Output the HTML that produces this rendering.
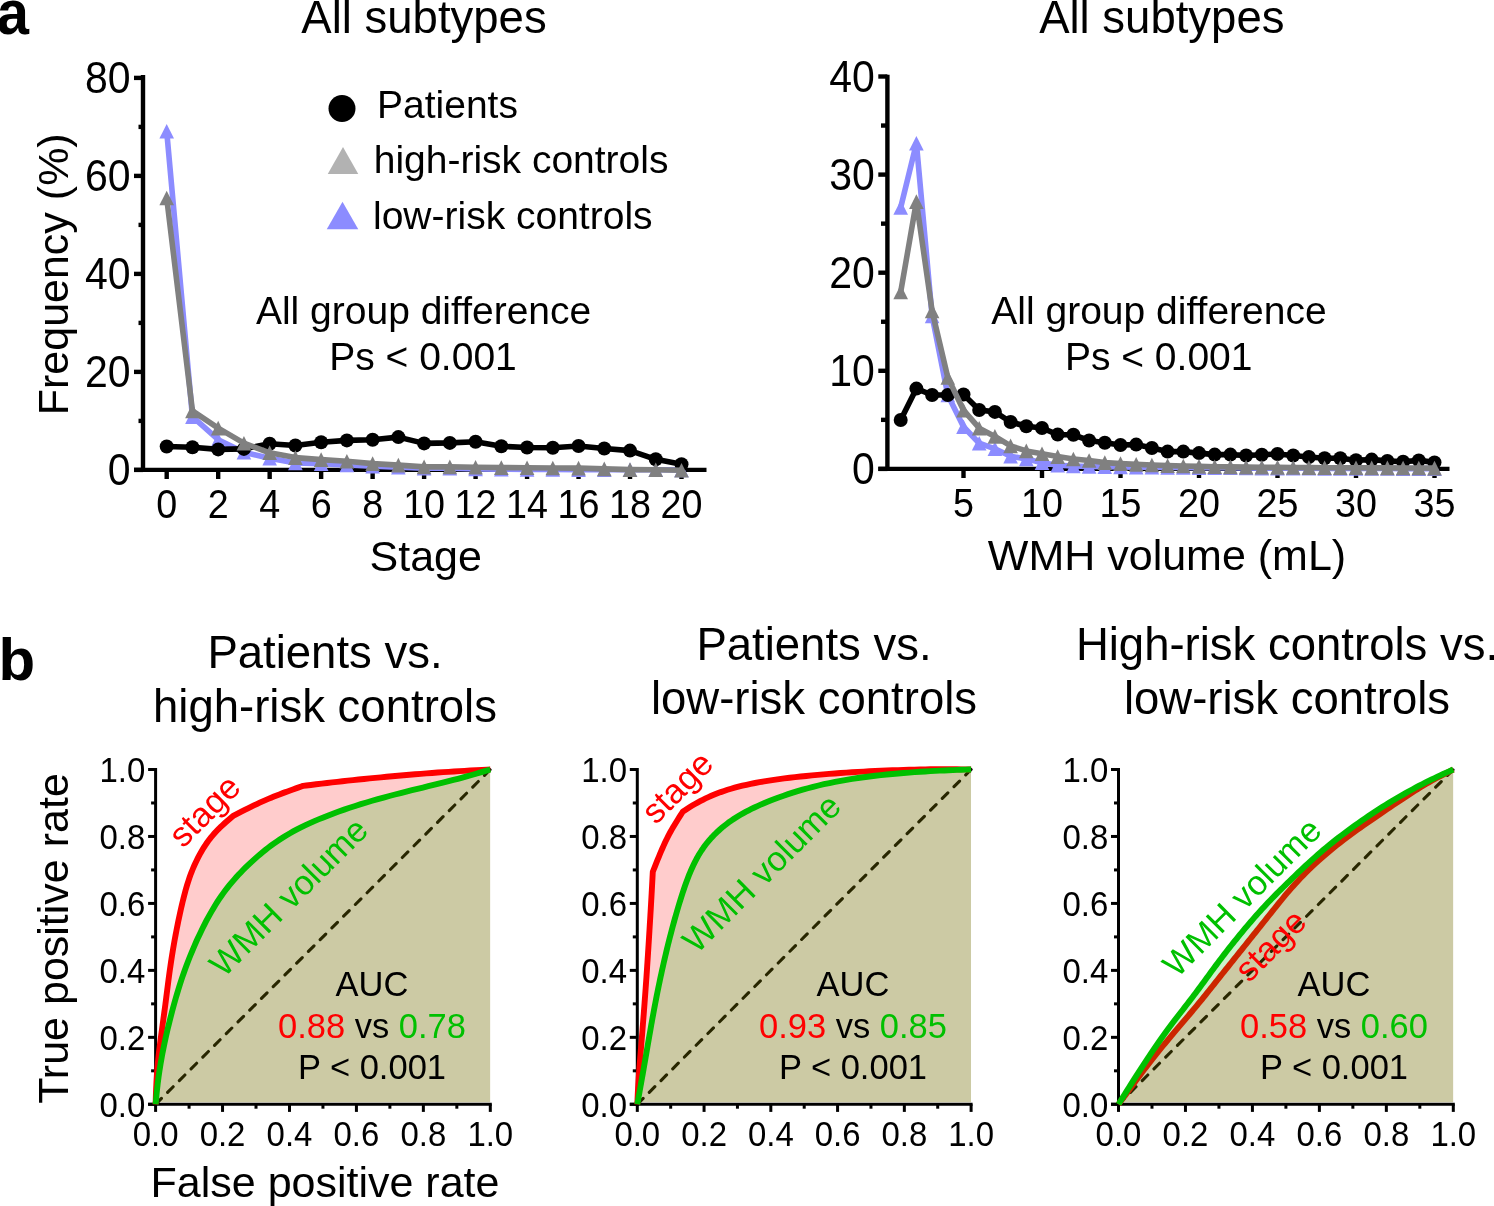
<!DOCTYPE html>
<html><head><meta charset="utf-8"><style>
html,body{margin:0;padding:0;background:#fff;width:1494px;height:1206px;overflow:hidden}
svg{position:absolute;left:0;top:0;display:block;will-change:transform}
text{font-family:"Liberation Sans", sans-serif}
</style></head><body>
<svg width="1494" height="1206" viewBox="0 0 1494 1206" font-family='"Liberation Sans", sans-serif'>
<g>
<text x="0" y="0" font-size="61" font-weight="bold" transform="translate(-3.2,34.0) scale(0.95,1.02)">a</text>
<text x="424.00" y="32.50" font-size="45.5" text-anchor="middle" fill="#000" font-weight="normal" >All subtypes</text>
<line x1="143.00" y1="75.00" x2="143.00" y2="471.90" stroke="#000" stroke-width="4.4" />
<line x1="134.00" y1="469.90" x2="706.50" y2="469.90" stroke="#000" stroke-width="4.4" />
<line x1="134.00" y1="469.90" x2="143.00" y2="469.90" stroke="#000" stroke-width="4.4" />
<line x1="138.50" y1="420.90" x2="143.00" y2="420.90" stroke="#000" stroke-width="4.4" />
<line x1="134.00" y1="371.90" x2="143.00" y2="371.90" stroke="#000" stroke-width="4.4" />
<line x1="138.50" y1="322.90" x2="143.00" y2="322.90" stroke="#000" stroke-width="4.4" />
<line x1="134.00" y1="273.90" x2="143.00" y2="273.90" stroke="#000" stroke-width="4.4" />
<line x1="138.50" y1="224.90" x2="143.00" y2="224.90" stroke="#000" stroke-width="4.4" />
<line x1="134.00" y1="175.90" x2="143.00" y2="175.90" stroke="#000" stroke-width="4.4" />
<line x1="138.50" y1="126.90" x2="143.00" y2="126.90" stroke="#000" stroke-width="4.4" />
<line x1="134.00" y1="77.90" x2="143.00" y2="77.90" stroke="#000" stroke-width="4.4" />
<text x="0" y="14.60" font-size="41" text-anchor="end" transform="translate(130.60,469.30) scale(1.0,1.09)">0</text>
<text x="0" y="14.60" font-size="41" text-anchor="end" transform="translate(130.60,371.30) scale(1.0,1.09)">20</text>
<text x="0" y="14.60" font-size="41" text-anchor="end" transform="translate(130.60,273.30) scale(1.0,1.09)">40</text>
<text x="0" y="14.60" font-size="41" text-anchor="end" transform="translate(130.60,175.30) scale(1.0,1.09)">60</text>
<text x="0" y="14.60" font-size="41" text-anchor="end" transform="translate(130.60,77.30) scale(1.0,1.09)">80</text>
<line x1="166.70" y1="469.90" x2="166.70" y2="479.00" stroke="#000" stroke-width="4.4" />
<text x="0" y="13.70" font-size="39.5" text-anchor="middle" transform="translate(166.70,503.50) scale(0.955,1.05)">0</text>
<line x1="218.18" y1="469.90" x2="218.18" y2="479.00" stroke="#000" stroke-width="4.4" />
<text x="0" y="13.70" font-size="39.5" text-anchor="middle" transform="translate(218.18,503.50) scale(0.955,1.05)">2</text>
<line x1="269.66" y1="469.90" x2="269.66" y2="479.00" stroke="#000" stroke-width="4.4" />
<text x="0" y="13.70" font-size="39.5" text-anchor="middle" transform="translate(269.66,503.50) scale(0.955,1.05)">4</text>
<line x1="321.14" y1="469.90" x2="321.14" y2="479.00" stroke="#000" stroke-width="4.4" />
<text x="0" y="13.70" font-size="39.5" text-anchor="middle" transform="translate(321.14,503.50) scale(0.955,1.05)">6</text>
<line x1="372.62" y1="469.90" x2="372.62" y2="479.00" stroke="#000" stroke-width="4.4" />
<text x="0" y="13.70" font-size="39.5" text-anchor="middle" transform="translate(372.62,503.50) scale(0.955,1.05)">8</text>
<line x1="424.10" y1="469.90" x2="424.10" y2="479.00" stroke="#000" stroke-width="4.4" />
<text x="0" y="13.70" font-size="39.5" text-anchor="middle" transform="translate(424.10,503.50) scale(0.955,1.05)">10</text>
<line x1="475.58" y1="469.90" x2="475.58" y2="479.00" stroke="#000" stroke-width="4.4" />
<text x="0" y="13.70" font-size="39.5" text-anchor="middle" transform="translate(475.58,503.50) scale(0.955,1.05)">12</text>
<line x1="527.06" y1="469.90" x2="527.06" y2="479.00" stroke="#000" stroke-width="4.4" />
<text x="0" y="13.70" font-size="39.5" text-anchor="middle" transform="translate(527.06,503.50) scale(0.955,1.05)">14</text>
<line x1="578.54" y1="469.90" x2="578.54" y2="479.00" stroke="#000" stroke-width="4.4" />
<text x="0" y="13.70" font-size="39.5" text-anchor="middle" transform="translate(578.54,503.50) scale(0.955,1.05)">16</text>
<line x1="630.02" y1="469.90" x2="630.02" y2="479.00" stroke="#000" stroke-width="4.4" />
<text x="0" y="13.70" font-size="39.5" text-anchor="middle" transform="translate(630.02,503.50) scale(0.955,1.05)">18</text>
<line x1="681.50" y1="469.90" x2="681.50" y2="479.00" stroke="#000" stroke-width="4.4" />
<text x="0" y="13.70" font-size="39.5" text-anchor="middle" transform="translate(681.50,503.50) scale(0.955,1.05)">20</text>
<polyline points="166.70,131.30 192.44,416.70 218.18,439.70 243.92,452.20 269.66,458.20 295.40,463.00 321.14,463.80 346.88,465.00 372.62,466.20 398.36,467.30 424.10,468.20 449.84,468.20 475.58,469.00 501.32,469.20 527.06,469.40 552.80,469.50 578.54,469.60 604.28,469.70 630.02,469.70 655.76,469.80 681.50,469.90" fill="none" stroke="#8c8cff" stroke-width="5.6" stroke-linejoin="round" />
<polygon points="166.70,124.00 174.00,138.60 159.40,138.60" fill="#8c8cff"/>
<polygon points="192.44,409.40 199.74,424.00 185.14,424.00" fill="#8c8cff"/>
<polygon points="218.18,432.40 225.48,447.00 210.88,447.00" fill="#8c8cff"/>
<polygon points="243.92,444.90 251.22,459.50 236.62,459.50" fill="#8c8cff"/>
<polygon points="269.66,450.90 276.96,465.50 262.36,465.50" fill="#8c8cff"/>
<polygon points="295.40,455.70 302.70,470.30 288.10,470.30" fill="#8c8cff"/>
<polygon points="321.14,456.50 328.44,471.10 313.84,471.10" fill="#8c8cff"/>
<polygon points="346.88,457.70 354.18,472.30 339.58,472.30" fill="#8c8cff"/>
<polygon points="372.62,458.90 379.92,473.50 365.32,473.50" fill="#8c8cff"/>
<polygon points="398.36,460.00 405.66,474.60 391.06,474.60" fill="#8c8cff"/>
<polygon points="424.10,460.90 431.40,475.50 416.80,475.50" fill="#8c8cff"/>
<polygon points="449.84,460.90 457.14,475.50 442.54,475.50" fill="#8c8cff"/>
<polygon points="475.58,461.70 482.88,476.30 468.28,476.30" fill="#8c8cff"/>
<polygon points="501.32,461.90 508.62,476.50 494.02,476.50" fill="#8c8cff"/>
<polygon points="527.06,462.10 534.36,476.70 519.76,476.70" fill="#8c8cff"/>
<polygon points="552.80,462.20 560.10,476.80 545.50,476.80" fill="#8c8cff"/>
<polygon points="578.54,462.30 585.84,476.90 571.24,476.90" fill="#8c8cff"/>
<polygon points="604.28,462.40 611.58,477.00 596.98,477.00" fill="#8c8cff"/>
<polygon points="630.02,462.40 637.32,477.00 622.72,477.00" fill="#8c8cff"/>
<polygon points="655.76,462.50 663.06,477.10 648.46,477.10" fill="#8c8cff"/>
<polygon points="681.50,462.60 688.80,477.20 674.20,477.20" fill="#8c8cff"/>
<polyline points="166.70,446.50 192.44,447.20 218.18,449.40 243.92,448.90 269.66,443.80 295.40,445.50 321.14,442.30 346.88,440.40 372.62,439.80 398.36,437.10 424.10,443.40 449.84,442.90 475.58,441.70 501.32,446.30 527.06,447.50 552.80,447.70 578.54,446.00 604.28,448.50 630.02,450.60 655.76,459.30 681.50,464.30" fill="none" stroke="#000" stroke-width="5.6" stroke-linejoin="round" />
<circle cx="166.70" cy="446.50" r="7.0" fill="#000"/>
<circle cx="192.44" cy="447.20" r="7.0" fill="#000"/>
<circle cx="218.18" cy="449.40" r="7.0" fill="#000"/>
<circle cx="243.92" cy="448.90" r="7.0" fill="#000"/>
<circle cx="269.66" cy="443.80" r="7.0" fill="#000"/>
<circle cx="295.40" cy="445.50" r="7.0" fill="#000"/>
<circle cx="321.14" cy="442.30" r="7.0" fill="#000"/>
<circle cx="346.88" cy="440.40" r="7.0" fill="#000"/>
<circle cx="372.62" cy="439.80" r="7.0" fill="#000"/>
<circle cx="398.36" cy="437.10" r="7.0" fill="#000"/>
<circle cx="424.10" cy="443.40" r="7.0" fill="#000"/>
<circle cx="449.84" cy="442.90" r="7.0" fill="#000"/>
<circle cx="475.58" cy="441.70" r="7.0" fill="#000"/>
<circle cx="501.32" cy="446.30" r="7.0" fill="#000"/>
<circle cx="527.06" cy="447.50" r="7.0" fill="#000"/>
<circle cx="552.80" cy="447.70" r="7.0" fill="#000"/>
<circle cx="578.54" cy="446.00" r="7.0" fill="#000"/>
<circle cx="604.28" cy="448.50" r="7.0" fill="#000"/>
<circle cx="630.02" cy="450.60" r="7.0" fill="#000"/>
<circle cx="655.76" cy="459.30" r="7.0" fill="#000"/>
<circle cx="681.50" cy="464.30" r="7.0" fill="#000"/>
<polyline points="166.70,198.00 192.44,410.90 218.18,428.10 243.92,443.20 269.66,452.80 295.40,457.60 321.14,459.60 346.88,461.20 372.62,463.60 398.36,465.10 424.10,466.90 449.84,466.90 475.58,467.30 501.32,467.60 527.06,467.80 552.80,468.00 578.54,468.10 604.28,468.90 630.02,469.60 655.76,469.80 681.50,470.20" fill="none" stroke="#808080" stroke-width="5.6" stroke-linejoin="round" />
<polygon points="166.70,190.70 174.00,205.30 159.40,205.30" fill="#808080"/>
<polygon points="192.44,403.60 199.74,418.20 185.14,418.20" fill="#808080"/>
<polygon points="218.18,420.80 225.48,435.40 210.88,435.40" fill="#808080"/>
<polygon points="243.92,435.90 251.22,450.50 236.62,450.50" fill="#808080"/>
<polygon points="269.66,445.50 276.96,460.10 262.36,460.10" fill="#808080"/>
<polygon points="295.40,450.30 302.70,464.90 288.10,464.90" fill="#808080"/>
<polygon points="321.14,452.30 328.44,466.90 313.84,466.90" fill="#808080"/>
<polygon points="346.88,453.90 354.18,468.50 339.58,468.50" fill="#808080"/>
<polygon points="372.62,456.30 379.92,470.90 365.32,470.90" fill="#808080"/>
<polygon points="398.36,457.80 405.66,472.40 391.06,472.40" fill="#808080"/>
<polygon points="424.10,459.60 431.40,474.20 416.80,474.20" fill="#808080"/>
<polygon points="449.84,459.60 457.14,474.20 442.54,474.20" fill="#808080"/>
<polygon points="475.58,460.00 482.88,474.60 468.28,474.60" fill="#808080"/>
<polygon points="501.32,460.30 508.62,474.90 494.02,474.90" fill="#808080"/>
<polygon points="527.06,460.50 534.36,475.10 519.76,475.10" fill="#808080"/>
<polygon points="552.80,460.70 560.10,475.30 545.50,475.30" fill="#808080"/>
<polygon points="578.54,460.80 585.84,475.40 571.24,475.40" fill="#808080"/>
<polygon points="604.28,461.60 611.58,476.20 596.98,476.20" fill="#808080"/>
<polygon points="630.02,462.30 637.32,476.90 622.72,476.90" fill="#808080"/>
<polygon points="655.76,462.50 663.06,477.10 648.46,477.10" fill="#808080"/>
<polygon points="681.50,462.90 688.80,477.50 674.20,477.50" fill="#808080"/>
<text x="425.70" y="571.00" font-size="43" text-anchor="middle" fill="#000" font-weight="normal" >Stage</text>
<text x="0.00" y="0.00" font-size="43" text-anchor="middle" fill="#000" font-weight="normal" transform="translate(68.3,274.3) rotate(-90)">Frequency (%)</text>
<circle cx="342.00" cy="108.50" r="13.5" fill="#000"/>
<text x="377.00" y="118.40" font-size="39" text-anchor="start" fill="#000" font-weight="normal" >Patients</text>
<polygon points="343.00,146.90 358.25,174.10 327.75,174.10" fill="#b2b2b2"/>
<text x="373.70" y="172.90" font-size="39" text-anchor="start" fill="#000" font-weight="normal" >high-risk controls</text>
<polygon points="342.50,201.85 358.25,229.15 326.75,229.15" fill="#8c8cff"/>
<text x="373.00" y="229.00" font-size="39" text-anchor="start" fill="#000" font-weight="normal" >low-risk controls</text>
<text x="423.60" y="324.10" font-size="39" text-anchor="middle" fill="#000" font-weight="normal" >All group difference</text>
<text x="423.00" y="370.40" font-size="39" text-anchor="middle" fill="#000" font-weight="normal" >Ps &lt; 0.001</text>
</g>
<g>
<text x="1161.80" y="32.50" font-size="45.5" text-anchor="middle" fill="#000" font-weight="normal" >All subtypes</text>
<line x1="887.40" y1="74.80" x2="887.40" y2="470.90" stroke="#000" stroke-width="4.4" />
<line x1="878.30" y1="468.90" x2="1449.50" y2="468.90" stroke="#000" stroke-width="4.4" />
<line x1="878.30" y1="468.90" x2="887.40" y2="468.90" stroke="#000" stroke-width="4.4" />
<line x1="881.00" y1="419.85" x2="887.40" y2="419.85" stroke="#000" stroke-width="4.4" />
<line x1="878.30" y1="370.80" x2="887.40" y2="370.80" stroke="#000" stroke-width="4.4" />
<line x1="881.00" y1="321.75" x2="887.40" y2="321.75" stroke="#000" stroke-width="4.4" />
<line x1="878.30" y1="272.70" x2="887.40" y2="272.70" stroke="#000" stroke-width="4.4" />
<line x1="881.00" y1="223.65" x2="887.40" y2="223.65" stroke="#000" stroke-width="4.4" />
<line x1="878.30" y1="174.60" x2="887.40" y2="174.60" stroke="#000" stroke-width="4.4" />
<line x1="881.00" y1="125.55" x2="887.40" y2="125.55" stroke="#000" stroke-width="4.4" />
<line x1="878.30" y1="76.50" x2="887.40" y2="76.50" stroke="#000" stroke-width="4.4" />
<text x="0" y="14.60" font-size="41" text-anchor="end" transform="translate(874.80,468.30) scale(1.0,1.09)">0</text>
<text x="0" y="14.60" font-size="41" text-anchor="end" transform="translate(874.80,370.20) scale(1.0,1.09)">10</text>
<text x="0" y="14.60" font-size="41" text-anchor="end" transform="translate(874.80,272.10) scale(1.0,1.09)">20</text>
<text x="0" y="14.60" font-size="41" text-anchor="end" transform="translate(874.80,174.00) scale(1.0,1.09)">30</text>
<text x="0" y="14.60" font-size="41" text-anchor="end" transform="translate(874.80,75.90) scale(1.0,1.09)">40</text>
<line x1="963.50" y1="468.90" x2="963.50" y2="478.00" stroke="#000" stroke-width="4.4" />
<text x="0" y="13.70" font-size="39.5" text-anchor="middle" transform="translate(963.50,502.50) scale(0.955,1.05)">5</text>
<line x1="1042.00" y1="468.90" x2="1042.00" y2="478.00" stroke="#000" stroke-width="4.4" />
<text x="0" y="13.70" font-size="39.5" text-anchor="middle" transform="translate(1042.00,502.50) scale(0.955,1.05)">10</text>
<line x1="1120.50" y1="468.90" x2="1120.50" y2="478.00" stroke="#000" stroke-width="4.4" />
<text x="0" y="13.70" font-size="39.5" text-anchor="middle" transform="translate(1120.50,502.50) scale(0.955,1.05)">15</text>
<line x1="1199.00" y1="468.90" x2="1199.00" y2="478.00" stroke="#000" stroke-width="4.4" />
<text x="0" y="13.70" font-size="39.5" text-anchor="middle" transform="translate(1199.00,502.50) scale(0.955,1.05)">20</text>
<line x1="1277.50" y1="468.90" x2="1277.50" y2="478.00" stroke="#000" stroke-width="4.4" />
<text x="0" y="13.70" font-size="39.5" text-anchor="middle" transform="translate(1277.50,502.50) scale(0.955,1.05)">25</text>
<line x1="1356.00" y1="468.90" x2="1356.00" y2="478.00" stroke="#000" stroke-width="4.4" />
<text x="0" y="13.70" font-size="39.5" text-anchor="middle" transform="translate(1356.00,502.50) scale(0.955,1.05)">30</text>
<line x1="1434.50" y1="468.90" x2="1434.50" y2="478.00" stroke="#000" stroke-width="4.4" />
<text x="0" y="13.70" font-size="39.5" text-anchor="middle" transform="translate(1434.50,502.50) scale(0.955,1.05)">35</text>
<polyline points="900.70,207.50 916.40,143.30 932.10,316.00 947.80,395.00 963.50,426.80 979.20,443.20 994.90,448.80 1010.60,456.30 1026.30,458.90 1042.00,462.70 1057.70,465.20 1073.40,466.00 1089.10,466.50 1104.80,466.80 1120.50,467.00 1136.20,467.20 1151.90,467.30 1167.60,467.40 1183.30,467.50 1199.00,467.60 1214.70,467.70 1230.40,467.80 1246.10,468.00 1261.80,468.10 1277.50,468.20 1293.20,468.30 1308.90,468.30 1324.60,468.40 1340.30,468.40 1356.00,468.50 1371.70,468.50 1387.40,468.50 1403.10,468.60 1418.80,468.60 1434.50,468.60" fill="none" stroke="#8c8cff" stroke-width="5.6" stroke-linejoin="round" />
<polygon points="900.70,200.20 908.00,214.80 893.40,214.80" fill="#8c8cff"/>
<polygon points="916.40,136.00 923.70,150.60 909.10,150.60" fill="#8c8cff"/>
<polygon points="932.10,308.70 939.40,323.30 924.80,323.30" fill="#8c8cff"/>
<polygon points="947.80,387.70 955.10,402.30 940.50,402.30" fill="#8c8cff"/>
<polygon points="963.50,419.50 970.80,434.10 956.20,434.10" fill="#8c8cff"/>
<polygon points="979.20,435.90 986.50,450.50 971.90,450.50" fill="#8c8cff"/>
<polygon points="994.90,441.50 1002.20,456.10 987.60,456.10" fill="#8c8cff"/>
<polygon points="1010.60,449.00 1017.90,463.60 1003.30,463.60" fill="#8c8cff"/>
<polygon points="1026.30,451.60 1033.60,466.20 1019.00,466.20" fill="#8c8cff"/>
<polygon points="1042.00,455.40 1049.30,470.00 1034.70,470.00" fill="#8c8cff"/>
<polygon points="1057.70,457.90 1065.00,472.50 1050.40,472.50" fill="#8c8cff"/>
<polygon points="1073.40,458.70 1080.70,473.30 1066.10,473.30" fill="#8c8cff"/>
<polygon points="1089.10,459.20 1096.40,473.80 1081.80,473.80" fill="#8c8cff"/>
<polygon points="1104.80,459.50 1112.10,474.10 1097.50,474.10" fill="#8c8cff"/>
<polygon points="1120.50,459.70 1127.80,474.30 1113.20,474.30" fill="#8c8cff"/>
<polygon points="1136.20,459.90 1143.50,474.50 1128.90,474.50" fill="#8c8cff"/>
<polygon points="1151.90,460.00 1159.20,474.60 1144.60,474.60" fill="#8c8cff"/>
<polygon points="1167.60,460.10 1174.90,474.70 1160.30,474.70" fill="#8c8cff"/>
<polygon points="1183.30,460.20 1190.60,474.80 1176.00,474.80" fill="#8c8cff"/>
<polygon points="1199.00,460.30 1206.30,474.90 1191.70,474.90" fill="#8c8cff"/>
<polygon points="1214.70,460.40 1222.00,475.00 1207.40,475.00" fill="#8c8cff"/>
<polygon points="1230.40,460.50 1237.70,475.10 1223.10,475.10" fill="#8c8cff"/>
<polygon points="1246.10,460.70 1253.40,475.30 1238.80,475.30" fill="#8c8cff"/>
<polygon points="1261.80,460.80 1269.10,475.40 1254.50,475.40" fill="#8c8cff"/>
<polygon points="1277.50,460.90 1284.80,475.50 1270.20,475.50" fill="#8c8cff"/>
<polygon points="1293.20,461.00 1300.50,475.60 1285.90,475.60" fill="#8c8cff"/>
<polygon points="1308.90,461.00 1316.20,475.60 1301.60,475.60" fill="#8c8cff"/>
<polygon points="1324.60,461.10 1331.90,475.70 1317.30,475.70" fill="#8c8cff"/>
<polygon points="1340.30,461.10 1347.60,475.70 1333.00,475.70" fill="#8c8cff"/>
<polygon points="1356.00,461.20 1363.30,475.80 1348.70,475.80" fill="#8c8cff"/>
<polygon points="1371.70,461.20 1379.00,475.80 1364.40,475.80" fill="#8c8cff"/>
<polygon points="1387.40,461.20 1394.70,475.80 1380.10,475.80" fill="#8c8cff"/>
<polygon points="1403.10,461.30 1410.40,475.90 1395.80,475.90" fill="#8c8cff"/>
<polygon points="1418.80,461.30 1426.10,475.90 1411.50,475.90" fill="#8c8cff"/>
<polygon points="1434.50,461.30 1441.80,475.90 1427.20,475.90" fill="#8c8cff"/>
<polyline points="900.70,420.00 916.40,388.60 932.10,395.00 947.80,395.00 963.50,394.50 979.20,410.00 994.90,411.90 1010.60,422.00 1026.30,426.30 1042.00,428.00 1057.70,434.60 1073.40,434.80 1089.10,440.50 1104.80,442.80 1120.50,445.00 1136.20,444.60 1151.90,448.00 1167.60,451.60 1183.30,451.60 1199.00,453.10 1214.70,454.60 1230.40,454.60 1246.10,455.50 1261.80,454.80 1277.50,454.00 1293.20,455.50 1308.90,457.00 1324.60,458.30 1340.30,458.30 1356.00,460.20 1371.70,459.60 1387.40,460.90 1403.10,461.70 1418.80,460.40 1434.50,462.40" fill="none" stroke="#000" stroke-width="5.6" stroke-linejoin="round" />
<circle cx="900.70" cy="420.00" r="7.0" fill="#000"/>
<circle cx="916.40" cy="388.60" r="7.0" fill="#000"/>
<circle cx="932.10" cy="395.00" r="7.0" fill="#000"/>
<circle cx="947.80" cy="395.00" r="7.0" fill="#000"/>
<circle cx="963.50" cy="394.50" r="7.0" fill="#000"/>
<circle cx="979.20" cy="410.00" r="7.0" fill="#000"/>
<circle cx="994.90" cy="411.90" r="7.0" fill="#000"/>
<circle cx="1010.60" cy="422.00" r="7.0" fill="#000"/>
<circle cx="1026.30" cy="426.30" r="7.0" fill="#000"/>
<circle cx="1042.00" cy="428.00" r="7.0" fill="#000"/>
<circle cx="1057.70" cy="434.60" r="7.0" fill="#000"/>
<circle cx="1073.40" cy="434.80" r="7.0" fill="#000"/>
<circle cx="1089.10" cy="440.50" r="7.0" fill="#000"/>
<circle cx="1104.80" cy="442.80" r="7.0" fill="#000"/>
<circle cx="1120.50" cy="445.00" r="7.0" fill="#000"/>
<circle cx="1136.20" cy="444.60" r="7.0" fill="#000"/>
<circle cx="1151.90" cy="448.00" r="7.0" fill="#000"/>
<circle cx="1167.60" cy="451.60" r="7.0" fill="#000"/>
<circle cx="1183.30" cy="451.60" r="7.0" fill="#000"/>
<circle cx="1199.00" cy="453.10" r="7.0" fill="#000"/>
<circle cx="1214.70" cy="454.60" r="7.0" fill="#000"/>
<circle cx="1230.40" cy="454.60" r="7.0" fill="#000"/>
<circle cx="1246.10" cy="455.50" r="7.0" fill="#000"/>
<circle cx="1261.80" cy="454.80" r="7.0" fill="#000"/>
<circle cx="1277.50" cy="454.00" r="7.0" fill="#000"/>
<circle cx="1293.20" cy="455.50" r="7.0" fill="#000"/>
<circle cx="1308.90" cy="457.00" r="7.0" fill="#000"/>
<circle cx="1324.60" cy="458.30" r="7.0" fill="#000"/>
<circle cx="1340.30" cy="458.30" r="7.0" fill="#000"/>
<circle cx="1356.00" cy="460.20" r="7.0" fill="#000"/>
<circle cx="1371.70" cy="459.60" r="7.0" fill="#000"/>
<circle cx="1387.40" cy="460.90" r="7.0" fill="#000"/>
<circle cx="1403.10" cy="461.70" r="7.0" fill="#000"/>
<circle cx="1418.80" cy="460.40" r="7.0" fill="#000"/>
<circle cx="1434.50" cy="462.40" r="7.0" fill="#000"/>
<polyline points="900.70,292.00 916.40,201.60 932.10,311.00 947.80,377.50 963.50,410.20 979.20,428.20 994.90,436.40 1010.60,445.90 1026.30,450.90 1042.00,453.70 1057.70,456.60 1073.40,459.00 1089.10,460.50 1104.80,462.60 1120.50,463.60 1136.20,464.40 1151.90,465.00 1167.60,465.60 1183.30,466.00 1199.00,466.40 1214.70,466.70 1230.40,466.90 1246.10,467.10 1261.80,467.30 1277.50,467.40 1293.20,467.50 1308.90,467.60 1324.60,467.70 1340.30,467.80 1356.00,467.80 1371.70,467.90 1387.40,467.90 1403.10,468.00 1418.80,468.00 1434.50,468.10" fill="none" stroke="#808080" stroke-width="5.6" stroke-linejoin="round" />
<polygon points="900.70,284.70 908.00,299.30 893.40,299.30" fill="#808080"/>
<polygon points="916.40,194.30 923.70,208.90 909.10,208.90" fill="#808080"/>
<polygon points="932.10,303.70 939.40,318.30 924.80,318.30" fill="#808080"/>
<polygon points="947.80,370.20 955.10,384.80 940.50,384.80" fill="#808080"/>
<polygon points="963.50,402.90 970.80,417.50 956.20,417.50" fill="#808080"/>
<polygon points="979.20,420.90 986.50,435.50 971.90,435.50" fill="#808080"/>
<polygon points="994.90,429.10 1002.20,443.70 987.60,443.70" fill="#808080"/>
<polygon points="1010.60,438.60 1017.90,453.20 1003.30,453.20" fill="#808080"/>
<polygon points="1026.30,443.60 1033.60,458.20 1019.00,458.20" fill="#808080"/>
<polygon points="1042.00,446.40 1049.30,461.00 1034.70,461.00" fill="#808080"/>
<polygon points="1057.70,449.30 1065.00,463.90 1050.40,463.90" fill="#808080"/>
<polygon points="1073.40,451.70 1080.70,466.30 1066.10,466.30" fill="#808080"/>
<polygon points="1089.10,453.20 1096.40,467.80 1081.80,467.80" fill="#808080"/>
<polygon points="1104.80,455.30 1112.10,469.90 1097.50,469.90" fill="#808080"/>
<polygon points="1120.50,456.30 1127.80,470.90 1113.20,470.90" fill="#808080"/>
<polygon points="1136.20,457.10 1143.50,471.70 1128.90,471.70" fill="#808080"/>
<polygon points="1151.90,457.70 1159.20,472.30 1144.60,472.30" fill="#808080"/>
<polygon points="1167.60,458.30 1174.90,472.90 1160.30,472.90" fill="#808080"/>
<polygon points="1183.30,458.70 1190.60,473.30 1176.00,473.30" fill="#808080"/>
<polygon points="1199.00,459.10 1206.30,473.70 1191.70,473.70" fill="#808080"/>
<polygon points="1214.70,459.40 1222.00,474.00 1207.40,474.00" fill="#808080"/>
<polygon points="1230.40,459.60 1237.70,474.20 1223.10,474.20" fill="#808080"/>
<polygon points="1246.10,459.80 1253.40,474.40 1238.80,474.40" fill="#808080"/>
<polygon points="1261.80,460.00 1269.10,474.60 1254.50,474.60" fill="#808080"/>
<polygon points="1277.50,460.10 1284.80,474.70 1270.20,474.70" fill="#808080"/>
<polygon points="1293.20,460.20 1300.50,474.80 1285.90,474.80" fill="#808080"/>
<polygon points="1308.90,460.30 1316.20,474.90 1301.60,474.90" fill="#808080"/>
<polygon points="1324.60,460.40 1331.90,475.00 1317.30,475.00" fill="#808080"/>
<polygon points="1340.30,460.50 1347.60,475.10 1333.00,475.10" fill="#808080"/>
<polygon points="1356.00,460.50 1363.30,475.10 1348.70,475.10" fill="#808080"/>
<polygon points="1371.70,460.60 1379.00,475.20 1364.40,475.20" fill="#808080"/>
<polygon points="1387.40,460.60 1394.70,475.20 1380.10,475.20" fill="#808080"/>
<polygon points="1403.10,460.70 1410.40,475.30 1395.80,475.30" fill="#808080"/>
<polygon points="1418.80,460.70 1426.10,475.30 1411.50,475.30" fill="#808080"/>
<polygon points="1434.50,460.80 1441.80,475.40 1427.20,475.40" fill="#808080"/>
<text x="1167.00" y="570.40" font-size="43" text-anchor="middle" fill="#000" font-weight="normal" >WMH volume (mL)</text>
<text x="1159.00" y="324.10" font-size="39" text-anchor="middle" fill="#000" font-weight="normal" >All group difference</text>
<text x="1158.70" y="370.40" font-size="39" text-anchor="middle" fill="#000" font-weight="normal" >Ps &lt; 0.001</text>
</g>
<text x="-1.50" y="680.20" font-size="60" text-anchor="start" fill="#000" font-weight="bold" >b</text>
<g>
<clipPath id="c1"><rect x="157.10" y="749.50" width="333.40" height="352.70"/></clipPath>
<line x1="155.60" y1="768.00" x2="155.60" y2="1105.80" stroke="#000" stroke-width="3.0" />
<line x1="148.10" y1="1104.30" x2="491.80" y2="1104.30" stroke="#000" stroke-width="3.0" />
<line x1="148.10" y1="1104.30" x2="155.60" y2="1104.30" stroke="#000" stroke-width="3.0" />
<line x1="155.60" y1="1104.30" x2="155.60" y2="1111.90" stroke="#000" stroke-width="3.0" />
<line x1="151.10" y1="1070.82" x2="155.60" y2="1070.82" stroke="#000" stroke-width="3.0" />
<line x1="189.07" y1="1104.30" x2="189.07" y2="1108.70" stroke="#000" stroke-width="3.0" />
<line x1="148.10" y1="1037.34" x2="155.60" y2="1037.34" stroke="#000" stroke-width="3.0" />
<line x1="222.54" y1="1104.30" x2="222.54" y2="1111.90" stroke="#000" stroke-width="3.0" />
<line x1="151.10" y1="1003.86" x2="155.60" y2="1003.86" stroke="#000" stroke-width="3.0" />
<line x1="256.01" y1="1104.30" x2="256.01" y2="1108.70" stroke="#000" stroke-width="3.0" />
<line x1="148.10" y1="970.38" x2="155.60" y2="970.38" stroke="#000" stroke-width="3.0" />
<line x1="289.48" y1="1104.30" x2="289.48" y2="1111.90" stroke="#000" stroke-width="3.0" />
<line x1="151.10" y1="936.90" x2="155.60" y2="936.90" stroke="#000" stroke-width="3.0" />
<line x1="322.95" y1="1104.30" x2="322.95" y2="1108.70" stroke="#000" stroke-width="3.0" />
<line x1="148.10" y1="903.42" x2="155.60" y2="903.42" stroke="#000" stroke-width="3.0" />
<line x1="356.42" y1="1104.30" x2="356.42" y2="1111.90" stroke="#000" stroke-width="3.0" />
<line x1="151.10" y1="869.94" x2="155.60" y2="869.94" stroke="#000" stroke-width="3.0" />
<line x1="389.89" y1="1104.30" x2="389.89" y2="1108.70" stroke="#000" stroke-width="3.0" />
<line x1="148.10" y1="836.46" x2="155.60" y2="836.46" stroke="#000" stroke-width="3.0" />
<line x1="423.36" y1="1104.30" x2="423.36" y2="1111.90" stroke="#000" stroke-width="3.0" />
<line x1="151.10" y1="802.98" x2="155.60" y2="802.98" stroke="#000" stroke-width="3.0" />
<line x1="456.83" y1="1104.30" x2="456.83" y2="1108.70" stroke="#000" stroke-width="3.0" />
<line x1="148.10" y1="769.50" x2="155.60" y2="769.50" stroke="#000" stroke-width="3.0" />
<line x1="490.30" y1="1104.30" x2="490.30" y2="1111.90" stroke="#000" stroke-width="3.0" />
<text x="0" y="12.00" font-size="34.5" text-anchor="end" transform="translate(145.30,1104.30) scale(0.955,1.035)">0.0</text>
<text x="0" y="12.00" font-size="34.5" text-anchor="middle" transform="translate(155.60,1133.10) scale(0.955,1.035)">0.0</text>
<text x="0" y="12.00" font-size="34.5" text-anchor="end" transform="translate(145.30,1037.34) scale(0.955,1.035)">0.2</text>
<text x="0" y="12.00" font-size="34.5" text-anchor="middle" transform="translate(222.54,1133.10) scale(0.955,1.035)">0.2</text>
<text x="0" y="12.00" font-size="34.5" text-anchor="end" transform="translate(145.30,970.38) scale(0.955,1.035)">0.4</text>
<text x="0" y="12.00" font-size="34.5" text-anchor="middle" transform="translate(289.48,1133.10) scale(0.955,1.035)">0.4</text>
<text x="0" y="12.00" font-size="34.5" text-anchor="end" transform="translate(145.30,903.42) scale(0.955,1.035)">0.6</text>
<text x="0" y="12.00" font-size="34.5" text-anchor="middle" transform="translate(356.42,1133.10) scale(0.955,1.035)">0.6</text>
<text x="0" y="12.00" font-size="34.5" text-anchor="end" transform="translate(145.30,836.46) scale(0.955,1.035)">0.8</text>
<text x="0" y="12.00" font-size="34.5" text-anchor="middle" transform="translate(423.36,1133.10) scale(0.955,1.035)">0.8</text>
<text x="0" y="12.00" font-size="34.5" text-anchor="end" transform="translate(145.30,769.50) scale(0.955,1.035)">1.0</text>
<text x="0" y="12.00" font-size="34.5" text-anchor="middle" transform="translate(490.30,1133.10) scale(0.955,1.035)">1.0</text>
<line x1="155.60" y1="1104.30" x2="490.30" y2="769.50" stroke="#000" stroke-width="3.1" stroke-linecap="round" stroke-dasharray="7.9 8.7" stroke-dashoffset="16.25"/>
<path d="M155.60,1104.30 L155.67,1102.21 L155.75,1099.27 L155.86,1095.83 L155.99,1092.26 L156.12,1088.90 L156.27,1085.77 L156.42,1082.63 L156.59,1079.46 L156.79,1076.27 L157.01,1073.04 L157.26,1069.79 L157.54,1066.50 L157.84,1063.18 L158.16,1059.84 L158.51,1056.48 L158.89,1053.10 L159.30,1049.68 L159.73,1046.25 L160.17,1042.80 L160.62,1039.35 L161.08,1035.89 L161.55,1032.42 L162.04,1028.93 L162.52,1025.45 L163.00,1021.97 L163.47,1018.48 L163.94,1015.00 L164.41,1011.51 L164.88,1008.02 L165.34,1004.53 L165.79,1001.05 L166.23,997.56 L166.67,994.08 L167.12,990.59 L167.57,987.11 L168.02,983.63 L168.47,980.14 L168.94,976.66 L169.41,973.17 L169.90,969.69 L170.40,966.21 L170.91,962.72 L171.44,959.23 L171.99,955.75 L172.55,952.27 L173.13,948.78 L173.73,945.29 L174.34,941.81 L174.97,938.34 L175.61,934.89 L176.26,931.45 L176.93,928.01 L177.62,924.59 L178.31,921.21 L179.01,917.88 L179.71,914.60 L180.42,911.35 L181.14,908.14 L181.87,905.00 L182.60,901.93 L183.33,898.94 L184.07,896.01 L184.81,893.15 L185.57,890.35 L186.35,887.62 L187.14,884.95 L187.95,882.35 L188.77,879.81 L189.62,877.31 L190.51,874.84 L191.44,872.40 L192.39,870.00 L193.37,867.64 L194.39,865.30 L195.45,862.98 L196.55,860.67 L197.68,858.39 L198.85,856.12 L200.06,853.89 L201.30,851.70 L202.57,849.55 L203.89,847.42 L205.23,845.33 L206.62,843.28 L208.04,841.28 L209.49,839.34 L210.98,837.45 L212.51,835.60 L214.07,833.80 L215.66,832.02 L217.29,830.30 L218.96,828.61 L220.66,826.97 L222.38,825.34 L224.12,823.73 L226.03,822.01 L228.11,820.19 L230.13,818.45 L231.87,816.96 L233.10,815.90 L235.13,814.86 L237.99,813.38 L241.33,811.66 L244.78,809.91 L247.97,808.31 L250.93,806.86 L253.88,805.44 L256.81,804.04 L259.73,802.68 L262.62,801.37 L265.49,800.11 L268.33,798.89 L271.16,797.71 L273.96,796.57 L276.72,795.46 L279.45,794.40 L282.16,793.38 L284.83,792.39 L287.48,791.42 L290.12,790.47 L292.93,789.45 L295.93,788.39 L298.80,787.38 L301.26,786.51 L303.00,785.90 L306.25,785.51 L310.81,784.95 L316.16,784.30 L321.76,783.63 L327.09,783.00 L332.13,782.42 L337.24,781.84 L342.43,781.27 L347.70,780.69 L353.04,780.12 L358.47,779.55 L364.00,778.99 L369.60,778.43 L375.23,777.87 L380.87,777.33 L386.54,776.79 L392.26,776.26 L397.99,775.74 L403.72,775.24 L409.42,774.75 L415.10,774.28 L420.78,773.82 L426.44,773.38 L432.05,772.96 L437.60,772.55 L443.09,772.18 L448.53,771.82 L453.92,771.48 L459.27,771.16 L464.56,770.85 L470.20,770.53 L476.18,770.22 L481.92,769.92 L486.82,769.68 L490.30,769.50 L490.30,1109.30 L155.60,1109.30 Z" fill="rgba(255,0,0,0.2)" clip-path="url(#c1)"/>
<polyline points="155.60,1104.30 155.67,1102.21 155.75,1099.27 155.86,1095.83 155.99,1092.26 156.12,1088.90 156.27,1085.77 156.42,1082.63 156.59,1079.46 156.79,1076.27 157.01,1073.04 157.26,1069.79 157.54,1066.50 157.84,1063.18 158.16,1059.84 158.51,1056.48 158.89,1053.10 159.30,1049.68 159.73,1046.25 160.17,1042.80 160.62,1039.35 161.08,1035.89 161.55,1032.42 162.04,1028.93 162.52,1025.45 163.00,1021.97 163.47,1018.48 163.94,1015.00 164.41,1011.51 164.88,1008.02 165.34,1004.53 165.79,1001.05 166.23,997.56 166.67,994.08 167.12,990.59 167.57,987.11 168.02,983.63 168.47,980.14 168.94,976.66 169.41,973.17 169.90,969.69 170.40,966.21 170.91,962.72 171.44,959.23 171.99,955.75 172.55,952.27 173.13,948.78 173.73,945.29 174.34,941.81 174.97,938.34 175.61,934.89 176.26,931.45 176.93,928.01 177.62,924.59 178.31,921.21 179.01,917.88 179.71,914.60 180.42,911.35 181.14,908.14 181.87,905.00 182.60,901.93 183.33,898.94 184.07,896.01 184.81,893.15 185.57,890.35 186.35,887.62 187.14,884.95 187.95,882.35 188.77,879.81 189.62,877.31 190.51,874.84 191.44,872.40 192.39,870.00 193.37,867.64 194.39,865.30 195.45,862.98 196.55,860.67 197.68,858.39 198.85,856.12 200.06,853.89 201.30,851.70 202.57,849.55 203.89,847.42 205.23,845.33 206.62,843.28 208.04,841.28 209.49,839.34 210.98,837.45 212.51,835.60 214.07,833.80 215.66,832.02 217.29,830.30 218.96,828.61 220.66,826.97 222.38,825.34 224.12,823.73 226.03,822.01 228.11,820.19 230.13,818.45 231.87,816.96 233.10,815.90 235.13,814.86 237.99,813.38 241.33,811.66 244.78,809.91 247.97,808.31 250.93,806.86 253.88,805.44 256.81,804.04 259.73,802.68 262.62,801.37 265.49,800.11 268.33,798.89 271.16,797.71 273.96,796.57 276.72,795.46 279.45,794.40 282.16,793.38 284.83,792.39 287.48,791.42 290.12,790.47 292.93,789.45 295.93,788.39 298.80,787.38 301.26,786.51 303.00,785.90 306.25,785.51 310.81,784.95 316.16,784.30 321.76,783.63 327.09,783.00 332.13,782.42 337.24,781.84 342.43,781.27 347.70,780.69 353.04,780.12 358.47,779.55 364.00,778.99 369.60,778.43 375.23,777.87 380.87,777.33 386.54,776.79 392.26,776.26 397.99,775.74 403.72,775.24 409.42,774.75 415.10,774.28 420.78,773.82 426.44,773.38 432.05,772.96 437.60,772.55 443.09,772.18 448.53,771.82 453.92,771.48 459.27,771.16 464.56,770.85 470.20,770.53 476.18,770.22 481.92,769.92 486.82,769.68 490.30,769.50" fill="none" stroke="#ff0000" stroke-width="5.9" stroke-linejoin="round" />
<path d="M155.60,1104.30 L155.79,1102.30 L156.05,1099.49 L156.36,1096.19 L156.70,1092.74 L157.04,1089.47 L157.40,1086.38 L157.76,1083.25 L158.16,1080.08 L158.58,1076.87 L159.04,1073.61 L159.53,1070.31 L160.06,1066.95 L160.61,1063.56 L161.20,1060.15 L161.81,1056.73 L162.46,1053.29 L163.13,1049.83 L163.84,1046.35 L164.56,1042.87 L165.31,1039.39 L166.08,1035.91 L166.88,1032.43 L167.69,1028.94 L168.53,1025.45 L169.39,1021.97 L170.26,1018.48 L171.16,1014.99 L172.07,1011.51 L173.00,1008.02 L173.96,1004.53 L174.94,1001.05 L175.93,997.56 L176.95,994.08 L178.00,990.59 L179.07,987.11 L180.18,983.63 L181.31,980.14 L182.48,976.66 L183.68,973.17 L184.91,969.69 L186.19,966.21 L187.51,962.72 L188.86,959.23 L190.25,955.75 L191.67,952.27 L193.14,948.78 L194.64,945.29 L196.18,941.81 L197.76,938.34 L199.37,934.89 L201.02,931.45 L202.69,928.01 L204.41,924.59 L206.15,921.21 L207.93,917.88 L209.74,914.60 L211.58,911.35 L213.46,908.14 L215.37,905.00 L217.31,901.93 L219.28,898.94 L221.29,896.01 L223.33,893.15 L225.40,890.35 L227.50,887.62 L229.63,884.95 L231.78,882.35 L233.97,879.81 L236.19,877.32 L238.45,874.86 L240.73,872.43 L243.04,870.05 L245.39,867.71 L247.77,865.40 L250.19,863.10 L252.64,860.84 L255.11,858.59 L257.63,856.38 L260.19,854.19 L262.82,852.02 L265.47,849.88 L268.16,847.78 L270.91,845.69 L273.76,843.62 L276.72,841.56 L279.78,839.51 L282.92,837.49 L286.17,835.47 L289.58,833.46 L293.18,831.45 L296.97,829.43 L300.92,827.41 L305.04,825.40 L309.34,823.39 L313.81,821.39 L318.48,819.39 L323.35,817.40 L328.39,815.41 L333.54,813.45 L338.78,811.53 L344.13,809.65 L349.62,807.79 L355.20,805.97 L360.84,804.18 L366.47,802.45 L372.13,800.77 L377.85,799.14 L383.59,797.56 L389.32,796.01 L395.00,794.50 L400.66,793.04 L406.31,791.61 L411.94,790.23 L417.48,788.87 L422.91,787.53 L428.25,786.22 L433.52,784.94 L438.70,783.67 L443.74,782.43 L448.62,781.20 L453.34,779.98 L457.90,778.78 L462.34,777.59 L466.65,776.42 L470.86,775.25 L475.24,773.99 L479.77,772.66 L484.06,771.37 L487.70,770.28 L490.30,769.50 L490.30,1109.30 L155.60,1109.30 Z" fill="rgba(0,192,0,0.2)" clip-path="url(#c1)"/>
<polyline points="155.60,1104.30 155.79,1102.30 156.05,1099.49 156.36,1096.19 156.70,1092.74 157.04,1089.47 157.40,1086.38 157.76,1083.25 158.16,1080.08 158.58,1076.87 159.04,1073.61 159.53,1070.31 160.06,1066.95 160.61,1063.56 161.20,1060.15 161.81,1056.73 162.46,1053.29 163.13,1049.83 163.84,1046.35 164.56,1042.87 165.31,1039.39 166.08,1035.91 166.88,1032.43 167.69,1028.94 168.53,1025.45 169.39,1021.97 170.26,1018.48 171.16,1014.99 172.07,1011.51 173.00,1008.02 173.96,1004.53 174.94,1001.05 175.93,997.56 176.95,994.08 178.00,990.59 179.07,987.11 180.18,983.63 181.31,980.14 182.48,976.66 183.68,973.17 184.91,969.69 186.19,966.21 187.51,962.72 188.86,959.23 190.25,955.75 191.67,952.27 193.14,948.78 194.64,945.29 196.18,941.81 197.76,938.34 199.37,934.89 201.02,931.45 202.69,928.01 204.41,924.59 206.15,921.21 207.93,917.88 209.74,914.60 211.58,911.35 213.46,908.14 215.37,905.00 217.31,901.93 219.28,898.94 221.29,896.01 223.33,893.15 225.40,890.35 227.50,887.62 229.63,884.95 231.78,882.35 233.97,879.81 236.19,877.32 238.45,874.86 240.73,872.43 243.04,870.05 245.39,867.71 247.77,865.40 250.19,863.10 252.64,860.84 255.11,858.59 257.63,856.38 260.19,854.19 262.82,852.02 265.47,849.88 268.16,847.78 270.91,845.69 273.76,843.62 276.72,841.56 279.78,839.51 282.92,837.49 286.17,835.47 289.58,833.46 293.18,831.45 296.97,829.43 300.92,827.41 305.04,825.40 309.34,823.39 313.81,821.39 318.48,819.39 323.35,817.40 328.39,815.41 333.54,813.45 338.78,811.53 344.13,809.65 349.62,807.79 355.20,805.97 360.84,804.18 366.47,802.45 372.13,800.77 377.85,799.14 383.59,797.56 389.32,796.01 395.00,794.50 400.66,793.04 406.31,791.61 411.94,790.23 417.48,788.87 422.91,787.53 428.25,786.22 433.52,784.94 438.70,783.67 443.74,782.43 448.62,781.20 453.34,779.98 457.90,778.78 462.34,777.59 466.65,776.42 470.86,775.25 475.24,773.99 479.77,772.66 484.06,771.37 487.70,770.28 490.30,769.50" fill="none" stroke="#00c000" stroke-width="5.9" stroke-linejoin="round" />
<text x="325.00" y="667.50" font-size="45.5" text-anchor="middle" fill="#000" font-weight="normal" >Patients vs.</text>
<text x="325.00" y="721.50" font-size="45.5" text-anchor="middle" fill="#000" font-weight="normal" >high-risk controls</text>
<text x="372.00" y="996.30" font-size="34.5" text-anchor="middle" fill="#000" font-weight="normal" >AUC</text>
<text x="372.00" y="1037.6" font-size="34.5" text-anchor="middle"><tspan fill="#ff0000">0.88</tspan> vs <tspan fill="#00c000">0.78</tspan></text>
<text x="372.00" y="1079.20" font-size="34.5" text-anchor="middle" fill="#000" font-weight="normal" >P &lt; 0.001</text>
<text x="0" y="0" font-size="34.5" fill="#ff0000" transform="translate(182.90,848.90) rotate(-45)">stage</text>
<text x="0" y="0" font-size="34.5" fill="#00c000" transform="translate(223.70,978.50) rotate(-45)">WMH volume</text>
<text x="325.00" y="1196.70" font-size="43" text-anchor="middle" fill="#000" font-weight="normal" >False positive rate</text>
<text x="0" y="0" font-size="43" text-anchor="middle" transform="translate(68.3,938.5) rotate(-90)">True positive rate</text>
</g>
<g>
<clipPath id="c2"><rect x="638.80" y="749.50" width="332.50" height="352.70"/></clipPath>
<line x1="637.30" y1="768.00" x2="637.30" y2="1105.80" stroke="#000" stroke-width="3.0" />
<line x1="629.80" y1="1104.30" x2="972.60" y2="1104.30" stroke="#000" stroke-width="3.0" />
<line x1="629.80" y1="1104.30" x2="637.30" y2="1104.30" stroke="#000" stroke-width="3.0" />
<line x1="637.30" y1="1104.30" x2="637.30" y2="1111.90" stroke="#000" stroke-width="3.0" />
<line x1="632.80" y1="1070.82" x2="637.30" y2="1070.82" stroke="#000" stroke-width="3.0" />
<line x1="670.68" y1="1104.30" x2="670.68" y2="1108.70" stroke="#000" stroke-width="3.0" />
<line x1="629.80" y1="1037.34" x2="637.30" y2="1037.34" stroke="#000" stroke-width="3.0" />
<line x1="704.06" y1="1104.30" x2="704.06" y2="1111.90" stroke="#000" stroke-width="3.0" />
<line x1="632.80" y1="1003.86" x2="637.30" y2="1003.86" stroke="#000" stroke-width="3.0" />
<line x1="737.44" y1="1104.30" x2="737.44" y2="1108.70" stroke="#000" stroke-width="3.0" />
<line x1="629.80" y1="970.38" x2="637.30" y2="970.38" stroke="#000" stroke-width="3.0" />
<line x1="770.82" y1="1104.30" x2="770.82" y2="1111.90" stroke="#000" stroke-width="3.0" />
<line x1="632.80" y1="936.90" x2="637.30" y2="936.90" stroke="#000" stroke-width="3.0" />
<line x1="804.20" y1="1104.30" x2="804.20" y2="1108.70" stroke="#000" stroke-width="3.0" />
<line x1="629.80" y1="903.42" x2="637.30" y2="903.42" stroke="#000" stroke-width="3.0" />
<line x1="837.58" y1="1104.30" x2="837.58" y2="1111.90" stroke="#000" stroke-width="3.0" />
<line x1="632.80" y1="869.94" x2="637.30" y2="869.94" stroke="#000" stroke-width="3.0" />
<line x1="870.96" y1="1104.30" x2="870.96" y2="1108.70" stroke="#000" stroke-width="3.0" />
<line x1="629.80" y1="836.46" x2="637.30" y2="836.46" stroke="#000" stroke-width="3.0" />
<line x1="904.34" y1="1104.30" x2="904.34" y2="1111.90" stroke="#000" stroke-width="3.0" />
<line x1="632.80" y1="802.98" x2="637.30" y2="802.98" stroke="#000" stroke-width="3.0" />
<line x1="937.72" y1="1104.30" x2="937.72" y2="1108.70" stroke="#000" stroke-width="3.0" />
<line x1="629.80" y1="769.50" x2="637.30" y2="769.50" stroke="#000" stroke-width="3.0" />
<line x1="971.10" y1="1104.30" x2="971.10" y2="1111.90" stroke="#000" stroke-width="3.0" />
<text x="0" y="12.00" font-size="34.5" text-anchor="end" transform="translate(627.00,1104.30) scale(0.955,1.035)">0.0</text>
<text x="0" y="12.00" font-size="34.5" text-anchor="middle" transform="translate(637.30,1133.10) scale(0.955,1.035)">0.0</text>
<text x="0" y="12.00" font-size="34.5" text-anchor="end" transform="translate(627.00,1037.34) scale(0.955,1.035)">0.2</text>
<text x="0" y="12.00" font-size="34.5" text-anchor="middle" transform="translate(704.06,1133.10) scale(0.955,1.035)">0.2</text>
<text x="0" y="12.00" font-size="34.5" text-anchor="end" transform="translate(627.00,970.38) scale(0.955,1.035)">0.4</text>
<text x="0" y="12.00" font-size="34.5" text-anchor="middle" transform="translate(770.82,1133.10) scale(0.955,1.035)">0.4</text>
<text x="0" y="12.00" font-size="34.5" text-anchor="end" transform="translate(627.00,903.42) scale(0.955,1.035)">0.6</text>
<text x="0" y="12.00" font-size="34.5" text-anchor="middle" transform="translate(837.58,1133.10) scale(0.955,1.035)">0.6</text>
<text x="0" y="12.00" font-size="34.5" text-anchor="end" transform="translate(627.00,836.46) scale(0.955,1.035)">0.8</text>
<text x="0" y="12.00" font-size="34.5" text-anchor="middle" transform="translate(904.34,1133.10) scale(0.955,1.035)">0.8</text>
<text x="0" y="12.00" font-size="34.5" text-anchor="end" transform="translate(627.00,769.50) scale(0.955,1.035)">1.0</text>
<text x="0" y="12.00" font-size="34.5" text-anchor="middle" transform="translate(971.10,1133.10) scale(0.955,1.035)">1.0</text>
<line x1="637.30" y1="1104.30" x2="971.10" y2="769.50" stroke="#000" stroke-width="3.1" stroke-linecap="round" stroke-dasharray="7.9 8.7" stroke-dashoffset="16.25"/>
<path d="M637.30,1104.30 L637.40,1102.16 L637.53,1099.16 L637.69,1095.63 L637.87,1091.95 L638.05,1088.47 L638.24,1085.19 L638.45,1081.87 L638.66,1078.51 L638.89,1075.12 L639.13,1071.68 L639.39,1068.20 L639.66,1064.68 L639.94,1061.11 L640.23,1057.53 L640.52,1053.94 L640.81,1050.34 L641.10,1046.71 L641.40,1043.08 L641.70,1039.43 L642.00,1035.79 L642.29,1032.15 L642.58,1028.51 L642.87,1024.86 L643.16,1021.21 L643.45,1017.57 L643.73,1013.92 L644.01,1010.27 L644.29,1006.63 L644.57,1002.98 L644.84,999.33 L645.11,995.69 L645.38,992.04 L645.64,988.40 L645.90,984.75 L646.16,981.11 L646.42,977.47 L646.67,973.82 L646.92,970.18 L647.16,966.53 L647.40,962.89 L647.64,959.25 L647.88,955.60 L648.11,951.96 L648.35,948.31 L648.58,944.67 L648.81,941.02 L649.03,937.37 L649.26,933.73 L649.48,930.08 L649.70,926.43 L649.92,922.79 L650.15,919.14 L650.37,915.50 L650.58,911.85 L650.80,908.21 L651.01,904.57 L651.22,900.93 L651.43,897.28 L651.63,893.64 L651.83,890.00 L652.04,886.07 L652.27,881.85 L652.49,877.77 L652.67,874.28 L652.80,871.80 L653.62,869.73 L654.78,866.80 L656.14,863.40 L657.53,859.93 L658.83,856.78 L660.01,853.95 L661.18,851.18 L662.34,848.47 L663.51,845.83 L664.68,843.28 L665.84,840.83 L667.00,838.47 L668.17,836.19 L669.34,833.96 L670.52,831.76 L671.72,829.61 L672.93,827.53 L674.16,825.49 L675.39,823.46 L676.63,821.44 L677.99,819.25 L679.47,816.92 L680.90,814.68 L682.13,812.76 L683.00,811.40 L684.61,810.39 L686.87,808.96 L689.53,807.30 L692.32,805.60 L695.01,804.03 L697.57,802.61 L700.17,801.19 L702.84,799.80 L705.59,798.44 L708.44,797.11 L711.38,795.81 L714.40,794.54 L717.52,793.30 L720.73,792.10 L724.07,790.94 L727.50,789.82 L731.03,788.73 L734.67,787.69 L738.45,786.68 L742.38,785.70 L746.45,784.77 L750.66,783.87 L755.01,783.00 L759.50,782.17 L764.15,781.37 L768.97,780.59 L773.96,779.84 L779.08,779.13 L784.32,778.44 L789.63,777.78 L795.05,777.14 L800.59,776.53 L806.22,775.95 L811.89,775.40 L817.57,774.88 L823.27,774.38 L829.01,773.91 L834.77,773.47 L840.55,773.05 L846.31,772.65 L852.07,772.28 L857.84,771.93 L863.61,771.61 L869.37,771.30 L875.11,771.02 L880.86,770.75 L886.62,770.51 L892.35,770.28 L898.02,770.08 L903.60,769.90 L909.12,769.74 L914.61,769.60 L920.01,769.48 L925.26,769.38 L930.30,769.31 L935.14,769.25 L939.80,769.22 L944.30,769.21 L948.64,769.22 L952.80,769.23 L957.02,769.27 L961.30,769.33 L965.30,769.40 L968.68,769.46 L971.10,769.50 L971.10,1109.30 L637.30,1109.30 Z" fill="rgba(255,0,0,0.2)" clip-path="url(#c2)"/>
<polyline points="637.30,1104.30 637.40,1102.16 637.53,1099.16 637.69,1095.63 637.87,1091.95 638.05,1088.47 638.24,1085.19 638.45,1081.87 638.66,1078.51 638.89,1075.12 639.13,1071.68 639.39,1068.20 639.66,1064.68 639.94,1061.11 640.23,1057.53 640.52,1053.94 640.81,1050.34 641.10,1046.71 641.40,1043.08 641.70,1039.43 642.00,1035.79 642.29,1032.15 642.58,1028.51 642.87,1024.86 643.16,1021.21 643.45,1017.57 643.73,1013.92 644.01,1010.27 644.29,1006.63 644.57,1002.98 644.84,999.33 645.11,995.69 645.38,992.04 645.64,988.40 645.90,984.75 646.16,981.11 646.42,977.47 646.67,973.82 646.92,970.18 647.16,966.53 647.40,962.89 647.64,959.25 647.88,955.60 648.11,951.96 648.35,948.31 648.58,944.67 648.81,941.02 649.03,937.37 649.26,933.73 649.48,930.08 649.70,926.43 649.92,922.79 650.15,919.14 650.37,915.50 650.58,911.85 650.80,908.21 651.01,904.57 651.22,900.93 651.43,897.28 651.63,893.64 651.83,890.00 652.04,886.07 652.27,881.85 652.49,877.77 652.67,874.28 652.80,871.80 653.62,869.73 654.78,866.80 656.14,863.40 657.53,859.93 658.83,856.78 660.01,853.95 661.18,851.18 662.34,848.47 663.51,845.83 664.68,843.28 665.84,840.83 667.00,838.47 668.17,836.19 669.34,833.96 670.52,831.76 671.72,829.61 672.93,827.53 674.16,825.49 675.39,823.46 676.63,821.44 677.99,819.25 679.47,816.92 680.90,814.68 682.13,812.76 683.00,811.40 684.61,810.39 686.87,808.96 689.53,807.30 692.32,805.60 695.01,804.03 697.57,802.61 700.17,801.19 702.84,799.80 705.59,798.44 708.44,797.11 711.38,795.81 714.40,794.54 717.52,793.30 720.73,792.10 724.07,790.94 727.50,789.82 731.03,788.73 734.67,787.69 738.45,786.68 742.38,785.70 746.45,784.77 750.66,783.87 755.01,783.00 759.50,782.17 764.15,781.37 768.97,780.59 773.96,779.84 779.08,779.13 784.32,778.44 789.63,777.78 795.05,777.14 800.59,776.53 806.22,775.95 811.89,775.40 817.57,774.88 823.27,774.38 829.01,773.91 834.77,773.47 840.55,773.05 846.31,772.65 852.07,772.28 857.84,771.93 863.61,771.61 869.37,771.30 875.11,771.02 880.86,770.75 886.62,770.51 892.35,770.28 898.02,770.08 903.60,769.90 909.12,769.74 914.61,769.60 920.01,769.48 925.26,769.38 930.30,769.31 935.14,769.25 939.80,769.22 944.30,769.21 948.64,769.22 952.80,769.23 957.02,769.27 961.30,769.33 965.30,769.40 968.68,769.46 971.10,769.50" fill="none" stroke="#ff0000" stroke-width="5.9" stroke-linejoin="round" />
<path d="M637.30,1104.30 L637.47,1103.34 L637.71,1102.02 L638.00,1100.43 L638.31,1098.68 L638.64,1096.85 L638.98,1094.97 L639.34,1092.96 L639.72,1090.82 L640.13,1088.52 L640.58,1086.04 L641.05,1083.37 L641.56,1080.51 L642.09,1077.51 L642.65,1074.39 L643.21,1071.20 L643.79,1067.91 L644.38,1064.49 L644.99,1060.99 L645.61,1057.45 L646.23,1053.90 L646.85,1050.33 L647.47,1046.72 L648.10,1043.08 L648.73,1039.43 L649.36,1035.79 L650.00,1032.15 L650.64,1028.51 L651.28,1024.86 L651.93,1021.21 L652.59,1017.57 L653.26,1013.92 L653.94,1010.27 L654.62,1006.63 L655.32,1002.98 L656.02,999.33 L656.74,995.69 L657.47,992.04 L658.21,988.40 L658.96,984.75 L659.72,981.11 L660.49,977.47 L661.28,973.82 L662.07,970.18 L662.88,966.54 L663.70,962.89 L664.54,959.25 L665.39,955.60 L666.25,951.95 L667.13,948.31 L668.02,944.65 L668.94,940.99 L669.87,937.33 L670.82,933.66 L671.78,929.99 L672.77,926.30 L673.78,922.61 L674.80,918.90 L675.85,915.18 L676.92,911.47 L678.02,907.75 L679.13,904.03 L680.27,900.29 L681.43,896.56 L682.63,892.86 L683.85,889.21 L685.11,885.59 L686.39,881.98 L687.71,878.42 L689.07,874.93 L690.48,871.53 L691.94,868.23 L693.43,865.00 L694.97,861.84 L696.56,858.79 L698.22,855.83 L699.93,852.99 L701.69,850.25 L703.51,847.60 L705.38,845.04 L707.31,842.56 L709.29,840.17 L711.33,837.88 L713.42,835.67 L715.55,833.53 L717.70,831.47 L719.89,829.48 L722.12,827.57 L724.38,825.73 L726.67,823.96 L728.98,822.24 L731.30,820.59 L733.64,819.01 L736.01,817.48 L738.43,815.99 L740.92,814.52 L743.47,813.08 L746.04,811.68 L748.69,810.30 L751.45,808.91 L754.38,807.51 L757.46,806.08 L760.65,804.64 L763.98,803.20 L767.49,801.74 L771.21,800.26 L775.15,798.75 L779.29,797.21 L783.61,795.66 L788.10,794.13 L792.75,792.63 L797.59,791.15 L802.62,789.67 L807.81,788.22 L813.10,786.82 L818.45,785.50 L823.89,784.24 L829.45,783.04 L835.08,781.91 L840.75,780.83 L846.43,779.82 L852.12,778.89 L857.86,778.03 L863.62,777.23 L869.38,776.49 L875.11,775.79 L880.85,775.13 L886.61,774.54 L892.34,773.99 L898.02,773.48 L903.60,773.01 L909.12,772.57 L914.61,772.16 L920.01,771.80 L925.26,771.46 L930.30,771.16 L935.14,770.88 L939.80,770.65 L944.30,770.44 L948.64,770.25 L952.80,770.08 L957.02,769.92 L961.30,769.78 L965.30,769.66 L968.68,769.57 L971.10,769.50 L971.10,1109.30 L637.30,1109.30 Z" fill="rgba(0,192,0,0.2)" clip-path="url(#c2)"/>
<polyline points="637.30,1104.30 637.47,1103.34 637.71,1102.02 638.00,1100.43 638.31,1098.68 638.64,1096.85 638.98,1094.97 639.34,1092.96 639.72,1090.82 640.13,1088.52 640.58,1086.04 641.05,1083.37 641.56,1080.51 642.09,1077.51 642.65,1074.39 643.21,1071.20 643.79,1067.91 644.38,1064.49 644.99,1060.99 645.61,1057.45 646.23,1053.90 646.85,1050.33 647.47,1046.72 648.10,1043.08 648.73,1039.43 649.36,1035.79 650.00,1032.15 650.64,1028.51 651.28,1024.86 651.93,1021.21 652.59,1017.57 653.26,1013.92 653.94,1010.27 654.62,1006.63 655.32,1002.98 656.02,999.33 656.74,995.69 657.47,992.04 658.21,988.40 658.96,984.75 659.72,981.11 660.49,977.47 661.28,973.82 662.07,970.18 662.88,966.54 663.70,962.89 664.54,959.25 665.39,955.60 666.25,951.95 667.13,948.31 668.02,944.65 668.94,940.99 669.87,937.33 670.82,933.66 671.78,929.99 672.77,926.30 673.78,922.61 674.80,918.90 675.85,915.18 676.92,911.47 678.02,907.75 679.13,904.03 680.27,900.29 681.43,896.56 682.63,892.86 683.85,889.21 685.11,885.59 686.39,881.98 687.71,878.42 689.07,874.93 690.48,871.53 691.94,868.23 693.43,865.00 694.97,861.84 696.56,858.79 698.22,855.83 699.93,852.99 701.69,850.25 703.51,847.60 705.38,845.04 707.31,842.56 709.29,840.17 711.33,837.88 713.42,835.67 715.55,833.53 717.70,831.47 719.89,829.48 722.12,827.57 724.38,825.73 726.67,823.96 728.98,822.24 731.30,820.59 733.64,819.01 736.01,817.48 738.43,815.99 740.92,814.52 743.47,813.08 746.04,811.68 748.69,810.30 751.45,808.91 754.38,807.51 757.46,806.08 760.65,804.64 763.98,803.20 767.49,801.74 771.21,800.26 775.15,798.75 779.29,797.21 783.61,795.66 788.10,794.13 792.75,792.63 797.59,791.15 802.62,789.67 807.81,788.22 813.10,786.82 818.45,785.50 823.89,784.24 829.45,783.04 835.08,781.91 840.75,780.83 846.43,779.82 852.12,778.89 857.86,778.03 863.62,777.23 869.38,776.49 875.11,775.79 880.85,775.13 886.61,774.54 892.34,773.99 898.02,773.48 903.60,773.01 909.12,772.57 914.61,772.16 920.01,771.80 925.26,771.46 930.30,771.16 935.14,770.88 939.80,770.65 944.30,770.44 948.64,770.25 952.80,770.08 957.02,769.92 961.30,769.78 965.30,769.66 968.68,769.57 971.10,769.50" fill="none" stroke="#00c000" stroke-width="5.9" stroke-linejoin="round" />
<text x="814.00" y="659.60" font-size="45.5" text-anchor="middle" fill="#000" font-weight="normal" >Patients vs.</text>
<text x="814.00" y="714.10" font-size="45.5" text-anchor="middle" fill="#000" font-weight="normal" >low-risk controls</text>
<text x="853.00" y="996.30" font-size="34.5" text-anchor="middle" fill="#000" font-weight="normal" >AUC</text>
<text x="853.00" y="1037.6" font-size="34.5" text-anchor="middle"><tspan fill="#ff0000">0.93</tspan> vs <tspan fill="#00c000">0.85</tspan></text>
<text x="853.00" y="1079.20" font-size="34.5" text-anchor="middle" fill="#000" font-weight="normal" >P &lt; 0.001</text>
<text x="0" y="0" font-size="34.5" fill="#ff0000" transform="translate(655.70,825.40) rotate(-45)">stage</text>
<text x="0" y="0" font-size="34.5" fill="#00c000" transform="translate(696.70,954.70) rotate(-45)">WMH volume</text>
</g>
<g>
<clipPath id="c3"><rect x="1120.00" y="749.50" width="333.50" height="352.70"/></clipPath>
<line x1="1118.50" y1="768.00" x2="1118.50" y2="1105.80" stroke="#000" stroke-width="3.0" />
<line x1="1111.00" y1="1104.30" x2="1454.80" y2="1104.30" stroke="#000" stroke-width="3.0" />
<line x1="1111.00" y1="1104.30" x2="1118.50" y2="1104.30" stroke="#000" stroke-width="3.0" />
<line x1="1118.50" y1="1104.30" x2="1118.50" y2="1111.90" stroke="#000" stroke-width="3.0" />
<line x1="1114.00" y1="1070.82" x2="1118.50" y2="1070.82" stroke="#000" stroke-width="3.0" />
<line x1="1151.98" y1="1104.30" x2="1151.98" y2="1108.70" stroke="#000" stroke-width="3.0" />
<line x1="1111.00" y1="1037.34" x2="1118.50" y2="1037.34" stroke="#000" stroke-width="3.0" />
<line x1="1185.46" y1="1104.30" x2="1185.46" y2="1111.90" stroke="#000" stroke-width="3.0" />
<line x1="1114.00" y1="1003.86" x2="1118.50" y2="1003.86" stroke="#000" stroke-width="3.0" />
<line x1="1218.94" y1="1104.30" x2="1218.94" y2="1108.70" stroke="#000" stroke-width="3.0" />
<line x1="1111.00" y1="970.38" x2="1118.50" y2="970.38" stroke="#000" stroke-width="3.0" />
<line x1="1252.42" y1="1104.30" x2="1252.42" y2="1111.90" stroke="#000" stroke-width="3.0" />
<line x1="1114.00" y1="936.90" x2="1118.50" y2="936.90" stroke="#000" stroke-width="3.0" />
<line x1="1285.90" y1="1104.30" x2="1285.90" y2="1108.70" stroke="#000" stroke-width="3.0" />
<line x1="1111.00" y1="903.42" x2="1118.50" y2="903.42" stroke="#000" stroke-width="3.0" />
<line x1="1319.38" y1="1104.30" x2="1319.38" y2="1111.90" stroke="#000" stroke-width="3.0" />
<line x1="1114.00" y1="869.94" x2="1118.50" y2="869.94" stroke="#000" stroke-width="3.0" />
<line x1="1352.86" y1="1104.30" x2="1352.86" y2="1108.70" stroke="#000" stroke-width="3.0" />
<line x1="1111.00" y1="836.46" x2="1118.50" y2="836.46" stroke="#000" stroke-width="3.0" />
<line x1="1386.34" y1="1104.30" x2="1386.34" y2="1111.90" stroke="#000" stroke-width="3.0" />
<line x1="1114.00" y1="802.98" x2="1118.50" y2="802.98" stroke="#000" stroke-width="3.0" />
<line x1="1419.82" y1="1104.30" x2="1419.82" y2="1108.70" stroke="#000" stroke-width="3.0" />
<line x1="1111.00" y1="769.50" x2="1118.50" y2="769.50" stroke="#000" stroke-width="3.0" />
<line x1="1453.30" y1="1104.30" x2="1453.30" y2="1111.90" stroke="#000" stroke-width="3.0" />
<text x="0" y="12.00" font-size="34.5" text-anchor="end" transform="translate(1108.20,1104.30) scale(0.955,1.035)">0.0</text>
<text x="0" y="12.00" font-size="34.5" text-anchor="middle" transform="translate(1118.50,1133.10) scale(0.955,1.035)">0.0</text>
<text x="0" y="12.00" font-size="34.5" text-anchor="end" transform="translate(1108.20,1037.34) scale(0.955,1.035)">0.2</text>
<text x="0" y="12.00" font-size="34.5" text-anchor="middle" transform="translate(1185.46,1133.10) scale(0.955,1.035)">0.2</text>
<text x="0" y="12.00" font-size="34.5" text-anchor="end" transform="translate(1108.20,970.38) scale(0.955,1.035)">0.4</text>
<text x="0" y="12.00" font-size="34.5" text-anchor="middle" transform="translate(1252.42,1133.10) scale(0.955,1.035)">0.4</text>
<text x="0" y="12.00" font-size="34.5" text-anchor="end" transform="translate(1108.20,903.42) scale(0.955,1.035)">0.6</text>
<text x="0" y="12.00" font-size="34.5" text-anchor="middle" transform="translate(1319.38,1133.10) scale(0.955,1.035)">0.6</text>
<text x="0" y="12.00" font-size="34.5" text-anchor="end" transform="translate(1108.20,836.46) scale(0.955,1.035)">0.8</text>
<text x="0" y="12.00" font-size="34.5" text-anchor="middle" transform="translate(1386.34,1133.10) scale(0.955,1.035)">0.8</text>
<text x="0" y="12.00" font-size="34.5" text-anchor="end" transform="translate(1108.20,769.50) scale(0.955,1.035)">1.0</text>
<text x="0" y="12.00" font-size="34.5" text-anchor="middle" transform="translate(1453.30,1133.10) scale(0.955,1.035)">1.0</text>
<line x1="1118.50" y1="1104.30" x2="1453.30" y2="769.50" stroke="#000" stroke-width="3.1" stroke-linecap="round" stroke-dasharray="7.9 8.7" stroke-dashoffset="16.25"/>
<path d="M1118.50,1104.30 L1119.29,1103.26 L1120.39,1101.79 L1121.69,1100.07 L1123.04,1098.27 L1124.32,1096.56 L1125.51,1094.96 L1126.71,1093.33 L1127.92,1091.68 L1129.15,1090.01 L1130.41,1088.30 L1131.69,1086.54 L1132.99,1084.76 L1134.31,1082.94 L1135.65,1081.10 L1137.02,1079.24 L1138.42,1077.35 L1139.84,1075.43 L1141.29,1073.49 L1142.75,1071.54 L1144.24,1069.58 L1145.74,1067.62 L1147.26,1065.64 L1148.80,1063.65 L1150.35,1061.66 L1151.91,1059.68 L1153.48,1057.69 L1155.06,1055.70 L1156.65,1053.71 L1158.24,1051.72 L1159.85,1049.72 L1161.46,1047.74 L1163.07,1045.75 L1164.70,1043.76 L1166.33,1041.77 L1167.98,1039.78 L1169.63,1037.79 L1171.29,1035.80 L1172.96,1033.81 L1174.63,1031.81 L1176.32,1029.82 L1178.01,1027.83 L1179.71,1025.83 L1181.41,1023.84 L1183.12,1021.83 L1184.84,1019.82 L1186.55,1017.81 L1188.27,1015.79 L1189.99,1013.77 L1191.71,1011.73 L1193.43,1009.69 L1195.15,1007.63 L1196.86,1005.56 L1198.58,1003.48 L1200.29,1001.39 L1202.00,999.29 L1203.71,997.18 L1205.42,995.05 L1207.13,992.91 L1208.84,990.77 L1210.55,988.63 L1212.27,986.48 L1213.98,984.32 L1215.69,982.16 L1217.41,980.00 L1219.12,977.83 L1220.84,975.68 L1222.57,973.52 L1224.29,971.36 L1226.01,969.20 L1227.74,967.04 L1229.46,964.88 L1231.19,962.73 L1232.91,960.57 L1234.64,958.42 L1236.37,956.27 L1238.09,954.11 L1239.82,951.96 L1241.54,949.80 L1243.27,947.65 L1244.99,945.49 L1246.71,943.33 L1248.44,941.17 L1250.16,939.02 L1251.89,936.86 L1253.61,934.70 L1255.33,932.54 L1257.06,930.38 L1258.78,928.22 L1260.51,926.06 L1262.23,923.90 L1263.96,921.74 L1265.68,919.59 L1267.41,917.43 L1269.13,915.27 L1270.87,913.11 L1272.60,910.94 L1274.32,908.78 L1276.06,906.61 L1277.82,904.43 L1279.62,902.22 L1281.43,899.99 L1283.26,897.75 L1285.12,895.48 L1287.05,893.18 L1289.07,890.82 L1291.17,888.41 L1293.33,885.95 L1295.57,883.45 L1297.91,880.90 L1300.36,878.31 L1302.93,875.65 L1305.61,872.94 L1308.39,870.19 L1311.26,867.42 L1314.20,864.66 L1317.23,861.88 L1320.36,859.07 L1323.56,856.26 L1326.81,853.47 L1330.08,850.72 L1333.39,848.01 L1336.74,845.31 L1340.13,842.64 L1343.53,840.01 L1346.92,837.42 L1350.31,834.88 L1353.71,832.38 L1357.12,829.92 L1360.51,827.50 L1363.88,825.11 L1367.23,822.76 L1370.57,820.46 L1373.89,818.19 L1377.19,815.95 L1380.44,813.74 L1383.66,811.55 L1386.84,809.39 L1390.00,807.26 L1393.13,805.16 L1396.24,803.07 L1399.33,801.00 L1402.39,798.95 L1405.43,796.93 L1408.46,794.93 L1411.47,792.98 L1414.49,791.06 L1417.51,789.17 L1420.51,787.33 L1423.47,785.53 L1426.40,783.80 L1429.28,782.13 L1432.13,780.53 L1434.95,778.99 L1437.72,777.49 L1440.44,776.04 L1443.29,774.55 L1446.29,773.02 L1449.14,771.59 L1451.57,770.37 L1453.30,769.50 L1453.30,1109.30 L1118.50,1109.30 Z" fill="rgba(255,0,0,0.2)" clip-path="url(#c3)"/>
<polyline points="1118.50,1104.30 1119.29,1103.26 1120.39,1101.79 1121.69,1100.07 1123.04,1098.27 1124.32,1096.56 1125.51,1094.96 1126.71,1093.33 1127.92,1091.68 1129.15,1090.01 1130.41,1088.30 1131.69,1086.54 1132.99,1084.76 1134.31,1082.94 1135.65,1081.10 1137.02,1079.24 1138.42,1077.35 1139.84,1075.43 1141.29,1073.49 1142.75,1071.54 1144.24,1069.58 1145.74,1067.62 1147.26,1065.64 1148.80,1063.65 1150.35,1061.66 1151.91,1059.68 1153.48,1057.69 1155.06,1055.70 1156.65,1053.71 1158.24,1051.72 1159.85,1049.72 1161.46,1047.74 1163.07,1045.75 1164.70,1043.76 1166.33,1041.77 1167.98,1039.78 1169.63,1037.79 1171.29,1035.80 1172.96,1033.81 1174.63,1031.81 1176.32,1029.82 1178.01,1027.83 1179.71,1025.83 1181.41,1023.84 1183.12,1021.83 1184.84,1019.82 1186.55,1017.81 1188.27,1015.79 1189.99,1013.77 1191.71,1011.73 1193.43,1009.69 1195.15,1007.63 1196.86,1005.56 1198.58,1003.48 1200.29,1001.39 1202.00,999.29 1203.71,997.18 1205.42,995.05 1207.13,992.91 1208.84,990.77 1210.55,988.63 1212.27,986.48 1213.98,984.32 1215.69,982.16 1217.41,980.00 1219.12,977.83 1220.84,975.68 1222.57,973.52 1224.29,971.36 1226.01,969.20 1227.74,967.04 1229.46,964.88 1231.19,962.73 1232.91,960.57 1234.64,958.42 1236.37,956.27 1238.09,954.11 1239.82,951.96 1241.54,949.80 1243.27,947.65 1244.99,945.49 1246.71,943.33 1248.44,941.17 1250.16,939.02 1251.89,936.86 1253.61,934.70 1255.33,932.54 1257.06,930.38 1258.78,928.22 1260.51,926.06 1262.23,923.90 1263.96,921.74 1265.68,919.59 1267.41,917.43 1269.13,915.27 1270.87,913.11 1272.60,910.94 1274.32,908.78 1276.06,906.61 1277.82,904.43 1279.62,902.22 1281.43,899.99 1283.26,897.75 1285.12,895.48 1287.05,893.18 1289.07,890.82 1291.17,888.41 1293.33,885.95 1295.57,883.45 1297.91,880.90 1300.36,878.31 1302.93,875.65 1305.61,872.94 1308.39,870.19 1311.26,867.42 1314.20,864.66 1317.23,861.88 1320.36,859.07 1323.56,856.26 1326.81,853.47 1330.08,850.72 1333.39,848.01 1336.74,845.31 1340.13,842.64 1343.53,840.01 1346.92,837.42 1350.31,834.88 1353.71,832.38 1357.12,829.92 1360.51,827.50 1363.88,825.11 1367.23,822.76 1370.57,820.46 1373.89,818.19 1377.19,815.95 1380.44,813.74 1383.66,811.55 1386.84,809.39 1390.00,807.26 1393.13,805.16 1396.24,803.07 1399.33,801.00 1402.39,798.95 1405.43,796.93 1408.46,794.93 1411.47,792.98 1414.49,791.06 1417.51,789.17 1420.51,787.33 1423.47,785.53 1426.40,783.80 1429.28,782.13 1432.13,780.53 1434.95,778.99 1437.72,777.49 1440.44,776.04 1443.29,774.55 1446.29,773.02 1449.14,771.59 1451.57,770.37 1453.30,769.50" fill="none" stroke="#ff0000" stroke-width="5.9" stroke-linejoin="round" />
<path d="M1118.50,1104.30 L1119.04,1103.42 L1119.80,1102.18 L1120.70,1100.72 L1121.67,1099.16 L1122.63,1097.61 L1123.58,1096.08 L1124.57,1094.49 L1125.60,1092.83 L1126.67,1091.11 L1127.78,1089.35 L1128.94,1087.51 L1130.14,1085.60 L1131.38,1083.65 L1132.64,1081.67 L1133.90,1079.69 L1135.17,1077.71 L1136.46,1075.70 L1137.76,1073.69 L1139.06,1071.67 L1140.36,1069.66 L1141.66,1067.66 L1142.97,1065.66 L1144.27,1063.66 L1145.58,1061.67 L1146.90,1059.68 L1148.21,1057.68 L1149.54,1055.69 L1150.86,1053.70 L1152.20,1051.71 L1153.54,1049.72 L1154.90,1047.74 L1156.26,1045.75 L1157.63,1043.76 L1159.01,1041.77 L1160.40,1039.78 L1161.80,1037.79 L1163.22,1035.80 L1164.65,1033.81 L1166.09,1031.81 L1167.54,1029.82 L1169.01,1027.83 L1170.50,1025.83 L1172.00,1023.84 L1173.51,1021.83 L1175.03,1019.82 L1176.58,1017.81 L1178.13,1015.79 L1179.70,1013.77 L1181.28,1011.73 L1182.87,1009.69 L1184.46,1007.63 L1186.06,1005.56 L1187.67,1003.48 L1189.28,1001.39 L1190.89,999.29 L1192.49,997.18 L1194.10,995.05 L1195.71,992.91 L1197.31,990.77 L1198.91,988.63 L1200.50,986.48 L1202.08,984.32 L1203.66,982.16 L1205.25,980.00 L1206.83,977.83 L1208.41,975.68 L1209.98,973.52 L1211.56,971.36 L1213.14,969.20 L1214.73,967.04 L1216.33,964.88 L1217.93,962.73 L1219.54,960.57 L1221.16,958.42 L1222.79,956.27 L1224.44,954.11 L1226.10,951.96 L1227.78,949.80 L1229.47,947.65 L1231.17,945.49 L1232.88,943.33 L1234.61,941.17 L1236.36,939.02 L1238.12,936.86 L1239.88,934.70 L1241.66,932.54 L1243.46,930.38 L1245.26,928.22 L1247.08,926.06 L1248.92,923.90 L1250.77,921.74 L1252.63,919.58 L1254.51,917.43 L1256.40,915.27 L1258.33,913.11 L1260.27,910.95 L1262.23,908.80 L1264.22,906.64 L1266.23,904.48 L1268.27,902.33 L1270.34,900.17 L1272.43,898.01 L1274.55,895.85 L1276.69,893.69 L1278.83,891.54 L1281.00,889.38 L1283.18,887.23 L1285.37,885.08 L1287.58,882.92 L1289.79,880.78 L1292.00,878.64 L1294.20,876.50 L1296.42,874.36 L1298.66,872.22 L1300.94,870.07 L1303.24,867.90 L1305.55,865.74 L1307.90,863.56 L1310.30,861.35 L1312.78,859.12 L1315.35,856.84 L1317.97,854.54 L1320.66,852.22 L1323.43,849.86 L1326.28,847.48 L1329.22,845.07 L1332.25,842.63 L1335.35,840.16 L1338.51,837.69 L1341.70,835.23 L1344.94,832.78 L1348.24,830.31 L1351.59,827.86 L1354.95,825.43 L1358.32,823.03 L1361.70,820.66 L1365.09,818.32 L1368.51,816.01 L1371.92,813.73 L1375.33,811.48 L1378.74,809.28 L1382.16,807.11 L1385.58,804.97 L1388.99,802.87 L1392.40,800.80 L1395.81,798.77 L1399.22,796.77 L1402.63,794.82 L1406.01,792.90 L1409.35,791.04 L1412.67,789.22 L1415.98,787.45 L1419.26,785.72 L1422.47,784.06 L1425.61,782.45 L1428.67,780.92 L1431.66,779.46 L1434.59,778.05 L1437.46,776.69 L1440.26,775.37 L1443.18,774.03 L1446.22,772.65 L1449.10,771.37 L1451.55,770.28 L1453.30,769.50 L1453.30,1109.30 L1118.50,1109.30 Z" fill="rgba(0,192,0,0.2)" clip-path="url(#c3)"/>
<polyline points="1118.50,1104.30 1119.04,1103.42 1119.80,1102.18 1120.70,1100.72 1121.67,1099.16 1122.63,1097.61 1123.58,1096.08 1124.57,1094.49 1125.60,1092.83 1126.67,1091.11 1127.78,1089.35 1128.94,1087.51 1130.14,1085.60 1131.38,1083.65 1132.64,1081.67 1133.90,1079.69 1135.17,1077.71 1136.46,1075.70 1137.76,1073.69 1139.06,1071.67 1140.36,1069.66 1141.66,1067.66 1142.97,1065.66 1144.27,1063.66 1145.58,1061.67 1146.90,1059.68 1148.21,1057.68 1149.54,1055.69 1150.86,1053.70 1152.20,1051.71 1153.54,1049.72 1154.90,1047.74 1156.26,1045.75 1157.63,1043.76 1159.01,1041.77 1160.40,1039.78 1161.80,1037.79 1163.22,1035.80 1164.65,1033.81 1166.09,1031.81 1167.54,1029.82 1169.01,1027.83 1170.50,1025.83 1172.00,1023.84 1173.51,1021.83 1175.03,1019.82 1176.58,1017.81 1178.13,1015.79 1179.70,1013.77 1181.28,1011.73 1182.87,1009.69 1184.46,1007.63 1186.06,1005.56 1187.67,1003.48 1189.28,1001.39 1190.89,999.29 1192.49,997.18 1194.10,995.05 1195.71,992.91 1197.31,990.77 1198.91,988.63 1200.50,986.48 1202.08,984.32 1203.66,982.16 1205.25,980.00 1206.83,977.83 1208.41,975.68 1209.98,973.52 1211.56,971.36 1213.14,969.20 1214.73,967.04 1216.33,964.88 1217.93,962.73 1219.54,960.57 1221.16,958.42 1222.79,956.27 1224.44,954.11 1226.10,951.96 1227.78,949.80 1229.47,947.65 1231.17,945.49 1232.88,943.33 1234.61,941.17 1236.36,939.02 1238.12,936.86 1239.88,934.70 1241.66,932.54 1243.46,930.38 1245.26,928.22 1247.08,926.06 1248.92,923.90 1250.77,921.74 1252.63,919.58 1254.51,917.43 1256.40,915.27 1258.33,913.11 1260.27,910.95 1262.23,908.80 1264.22,906.64 1266.23,904.48 1268.27,902.33 1270.34,900.17 1272.43,898.01 1274.55,895.85 1276.69,893.69 1278.83,891.54 1281.00,889.38 1283.18,887.23 1285.37,885.08 1287.58,882.92 1289.79,880.78 1292.00,878.64 1294.20,876.50 1296.42,874.36 1298.66,872.22 1300.94,870.07 1303.24,867.90 1305.55,865.74 1307.90,863.56 1310.30,861.35 1312.78,859.12 1315.35,856.84 1317.97,854.54 1320.66,852.22 1323.43,849.86 1326.28,847.48 1329.22,845.07 1332.25,842.63 1335.35,840.16 1338.51,837.69 1341.70,835.23 1344.94,832.78 1348.24,830.31 1351.59,827.86 1354.95,825.43 1358.32,823.03 1361.70,820.66 1365.09,818.32 1368.51,816.01 1371.92,813.73 1375.33,811.48 1378.74,809.28 1382.16,807.11 1385.58,804.97 1388.99,802.87 1392.40,800.80 1395.81,798.77 1399.22,796.77 1402.63,794.82 1406.01,792.90 1409.35,791.04 1412.67,789.22 1415.98,787.45 1419.26,785.72 1422.47,784.06 1425.61,782.45 1428.67,780.92 1431.66,779.46 1434.59,778.05 1437.46,776.69 1440.26,775.37 1443.18,774.03 1446.22,772.65 1449.10,771.37 1451.55,770.28 1453.30,769.50" fill="none" stroke="#00c000" stroke-width="5.9" stroke-linejoin="round" />
<text x="1287.00" y="660.30" font-size="45.5" text-anchor="middle" fill="#000" font-weight="normal" >High-risk controls vs.</text>
<text x="1287.00" y="713.60" font-size="45.5" text-anchor="middle" fill="#000" font-weight="normal" >low-risk controls</text>
<text x="1334.00" y="996.30" font-size="34.5" text-anchor="middle" fill="#000" font-weight="normal" >AUC</text>
<text x="1334.00" y="1037.6" font-size="34.5" text-anchor="middle"><tspan fill="#ff0000">0.58</tspan> vs <tspan fill="#00c000">0.60</tspan></text>
<text x="1334.00" y="1079.20" font-size="34.5" text-anchor="middle" fill="#000" font-weight="normal" >P &lt; 0.001</text>
<text x="0" y="0" font-size="34.5" fill="#ff0000" transform="translate(1249.00,983.40) rotate(-45)">stage</text>
<text x="0" y="0" font-size="34.5" fill="#00c000" transform="translate(1177.10,978.70) rotate(-45)">WMH volume</text>
</g>
</svg>
</body></html>
